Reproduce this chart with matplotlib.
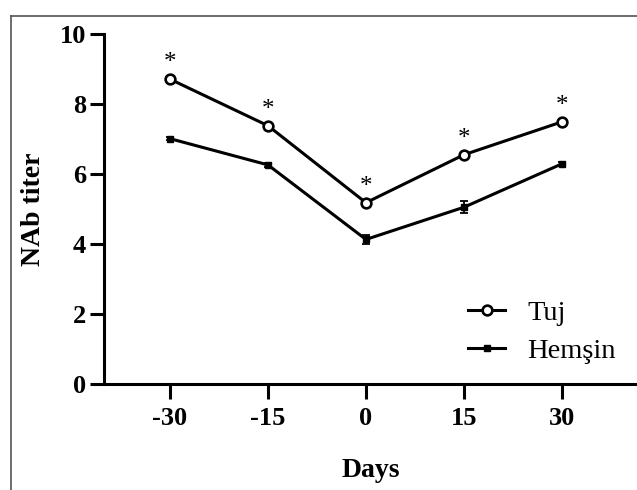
import matplotlib
matplotlib.use("Agg")
import matplotlib.pyplot as plt
from matplotlib.lines import Line2D

days = [-30, -15, 0, 15, 30]
tuj = [8.71, 7.38, 5.18, 6.55, 7.49]
tuj_err = [0.05, 0.05, 0.06, 0.06, 0.05]
hemsin = [7.01, 6.26, 4.13, 5.05, 6.29]
hemsin_err = [0.05, 0.05, 0.12, 0.17, 0.05]
stars = ["*", "*", "*", "*", "*"]

plt.rcParams["font.family"] = ["Liberation Serif", "DejaVu Serif"]
plt.rcParams["axes.unicode_minus"] = False

fig = plt.figure(figsize=(6.37, 4.9), dpi=100)
ax = fig.add_axes([104 / 637, 1 - 384 / 490, 1 - 104 / 637, 350 / 490])

ax.errorbar(days, tuj, yerr=tuj_err, color="black", lw=2.2, marker="o",
            ms=7, mfc="white", mec="black", mew=1.9, capsize=3,
            elinewidth=1.3, capthick=1.3, label="Tuj", zorder=3)
ax.errorbar(days, hemsin, yerr=hemsin_err, color="black", lw=2.2, marker="s",
            ms=5, mfc="black", mec="black", capsize=3,
            elinewidth=1.3, capthick=1.3, label="Hemşin", zorder=3)

for x, y, s in zip(days, tuj, stars):
    ax.annotate(s, xy=(x, y), xytext=(0, 7), textcoords="offset points",
                ha="center", va="baseline", fontsize=18)

ax.set_xlim(-40.1, 41.5)
ax.set_ylim(0, 10)
ax.set_xticks(days)
ax.set_yticks([0, 2, 4, 6, 8, 10])
ax.tick_params(axis="both", width=2.2, length=10, labelsize=19, pad=3)
ax.tick_params(axis="x", length=10.5, pad=6)
for lab in ax.get_xticklabels() + ax.get_yticklabels():
    lab.set_fontweight("bold")
for s in ("top", "right"):
    ax.spines[s].set_visible(False)
for s in ("left", "bottom"):
    ax.spines[s].set_linewidth(2.2)

ax.set_xlabel("Days", fontsize=20, fontweight="bold", labelpad=20)
ax.set_ylabel("NAb titer", fontsize=20, fontweight="bold", labelpad=10)

handles = [Line2D([], [], color="black", lw=2.2, marker="o", ms=7,
                  mfc="white", mec="black", mew=1.9),
           Line2D([], [], color="black", lw=2.2, marker="s", ms=5,
                  mfc="black", mec="black")]
ax.legend(handles, ["Tuj", "Hemşin"], loc="center left",
          bbox_to_anchor=(0.683, 0.149), frameon=False, fontsize=20.5,
          handlelength=1.3, handletextpad=0.77, labelspacing=0.42,
          borderpad=0, borderaxespad=0)

# thin grey frame round the picture
fig.add_artist(Line2D([11 / 637, 1], [1 - 16 / 490, 1 - 16 / 490],
                      transform=fig.transFigure, color="#555555", lw=1.2))
fig.add_artist(Line2D([11 / 637, 11 / 637], [0, 1 - 16 / 490],
                      transform=fig.transFigure, color="#555555", lw=1.2))

fig.savefig("out.png", dpi=100, facecolor="white")
